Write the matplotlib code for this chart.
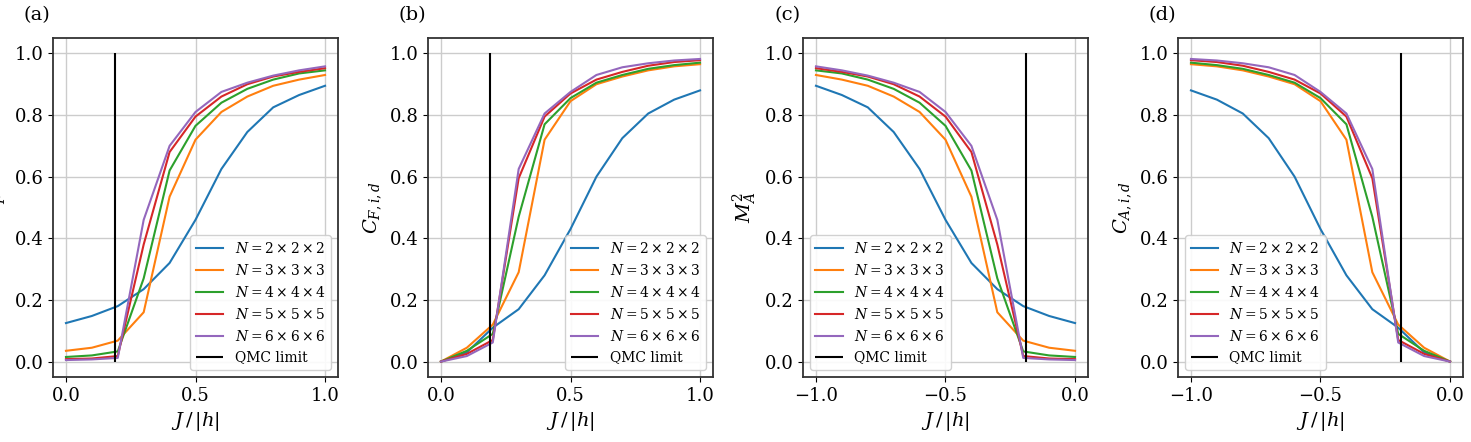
import matplotlib.pyplot as plt

plt.rcParams['font.family'] = ['DejaVu Serif']
plt.rcParams['mathtext.fontset'] = 'dejavuserif'

# coupling grid
J_pos = [0.0, 0.1, 0.2, 0.3, 0.4, 0.5, 0.6, 0.7, 0.8, 0.9, 1.0]
J_neg = [-1.0, -0.9, -0.8, -0.7, -0.6, -0.5, -0.4, -0.3, -0.2, -0.1, 0.0]
qmc_limit = 0.19

labels = [r'$N = 2 \times 2 \times 2$', r'$N = 3 \times 3 \times 3$',
          r'$N = 4 \times 4 \times 4$', r'$N = 5 \times 5 \times 5$',
          r'$N = 6 \times 6 \times 6$']

# (a) ferromagnetic order parameter M_F^2
mF_2 = [0.125, 0.148, 0.180, 0.235, 0.320, 0.460, 0.625, 0.745, 0.825, 0.865, 0.895]
mF_3 = [0.035, 0.045, 0.068, 0.160, 0.535, 0.720, 0.810, 0.860, 0.895, 0.915, 0.930]
mF_4 = [0.015, 0.020, 0.033, 0.270, 0.620, 0.765, 0.840, 0.885, 0.915, 0.935, 0.945]
mF_5 = [0.008, 0.010, 0.018, 0.380, 0.680, 0.795, 0.860, 0.900, 0.925, 0.940, 0.952]
mF_6 = [0.005, 0.007, 0.012, 0.460, 0.700, 0.810, 0.875, 0.905, 0.928, 0.945, 0.958]

# (b) correlation C_{F,i,d}
cF_2 = [0.000, 0.030, 0.110, 0.170, 0.280, 0.430, 0.600, 0.725, 0.805, 0.850, 0.880]
cF_3 = [0.000, 0.045, 0.120, 0.290, 0.720, 0.845, 0.900, 0.925, 0.945, 0.958, 0.965]
cF_4 = [0.000, 0.035, 0.090, 0.470, 0.770, 0.855, 0.905, 0.930, 0.950, 0.962, 0.970]
cF_5 = [0.000, 0.025, 0.070, 0.595, 0.795, 0.870, 0.915, 0.940, 0.960, 0.972, 0.978]
cF_6 = [0.000, 0.018, 0.062, 0.625, 0.805, 0.875, 0.930, 0.955, 0.968, 0.977, 0.982]

# (c), (d) antiferromagnetic side is the mirror image
mA_2, mA_3, mA_4, mA_5, mA_6 = [s[::-1] for s in (mF_2, mF_3, mF_4, mF_5, mF_6)]
cA_2, cA_3, cA_4, cA_5, cA_6 = [s[::-1] for s in (cF_2, cF_3, cF_4, cF_5, cF_6)]

panels = [
    ('(a)', J_pos, [mF_2, mF_3, mF_4, mF_5, mF_6], r'$M_F^2$', qmc_limit, 'lower right'),
    ('(b)', J_pos, [cF_2, cF_3, cF_4, cF_5, cF_6], r'$C_{F,i,d}$', qmc_limit, 'lower right'),
    ('(c)', J_neg, [mA_2, mA_3, mA_4, mA_5, mA_6], r'$M_A^2$', -qmc_limit, 'lower left'),
    ('(d)', J_neg, [cA_2, cA_3, cA_4, cA_5, cA_6], r'$C_{A,i,d}$', -qmc_limit, 'lower left'),
]

W, H = 1471, 442
fig = plt.figure(figsize=(W / 100, H / 100), dpi=100)
lefts = [53, 428, 803, 1178]

for left, (tag, x, series, ylab, qmc, loc) in zip(lefts, panels):
    ax = fig.add_axes([left / W, 65 / H, 285 / W, 339 / H])
    for y, lab in zip(series, labels):
        ax.plot(x, y, lw=1.5, label=lab)
    ax.vlines(qmc, 0, 1, color='black', lw=1.5, label='QMC limit')
    ax.grid(True, color='#cccccc', lw=1.0)
    ax.set_axisbelow(True)
    ax.set_yticks([0.0, 0.2, 0.4, 0.6, 0.8, 1.0])
    ax.set_xticks([min(x), (min(x) + max(x)) / 2, max(x)])
    ax.tick_params(labelsize=13)
    ax.set_xlabel(r'$J\,/\,|h|$', fontsize=14)
    ax.set_ylabel(ylab, fontsize=14)
    ax.legend(loc=loc, fontsize=10, framealpha=0.9)
    ax.text(-0.055, 1.068, tag, transform=ax.transAxes, ha='center', va='center', fontsize=14)
    for sp in ax.spines.values():
        sp.set_linewidth(1.3)
        sp.set_color('#333333')

plt.savefig('out.png', dpi=100)
